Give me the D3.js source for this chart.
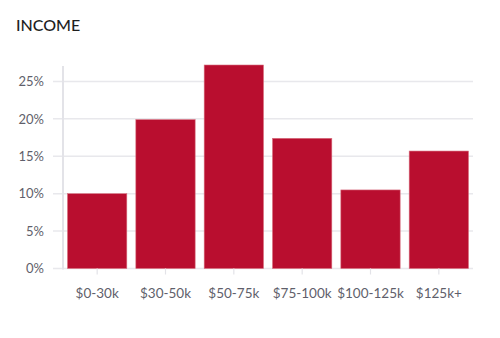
<!DOCTYPE html>
<html>
<head>
<meta charset="utf-8">
<script src="https://cdn.jsdelivr.net/npm/d3@7"></script>
<style>
  html, body { margin: 0; padding: 0; background: #fff; }
  svg { display: block; }
  text { font-family: Lato, "Open Sans", sans-serif; }
</style>
</head>
<body>
<svg id="chart" width="500" height="338"></svg>
<script>
const categories = ["$0-30k", "$30-50k", "$50-75k", "$75-100k", "$100-125k", "$125k+"];
const values = [10.0, 19.9, 27.2, 17.4, 10.5, 15.7];
const yTicks = [0, 5, 10, 15, 20, 25];
const title = "INCOME";

const svg = d3.select("#chart");
const margin = { left: 63, right: 27, top: 65, bottom: 69.5 };
const W = 500, H = 338;

const x = d3.scaleBand()
  .domain(categories)
  .range([margin.left, W - margin.right])
  .paddingInner(0.132)
  .paddingOuter(0.066);

const y = d3.scaleLinear()
  .domain([0, 27.2])
  .range([H - margin.bottom, margin.top]);

svg.append("text")
  .attr("x", 16).attr("y", 31)
  .attr("font-size", 16)
  .attr("font-weight", 500)
  .attr("fill", "#1e1e1e")
  .attr("font-family", "Inter, Lato, sans-serif")
  .text(title);

// gridlines
svg.append("g")
  .selectAll("line")
  .data(yTicks)
  .join("line")
  .attr("x1", margin.left - 10)
  .attr("x2", W - margin.right)
  .attr("y1", d => y(d))
  .attr("y2", d => y(d))
  .attr("stroke", "#e8e8ec")
  .attr("stroke-width", 1.5);

// y axis labels
const yAxis = d3.axisLeft(y).tickValues(yTicks).tickFormat(d => d + "%").tickSize(0).tickPadding(19);
const gy = svg.append("g").attr("transform", `translate(${margin.left},0)`).call(yAxis);
gy.select(".domain").remove();
gy.selectAll("text").attr("font-size", 13).attr("fill", "#5f5f6b")
  .attr("font-family", "Lato, 'Open Sans', sans-serif");

// y axis line
svg.append("line")
  .attr("x1", margin.left).attr("x2", margin.left)
  .attr("y1", y(27.2) + 1).attr("y2", y(0) + 1)
  .attr("stroke", "#e3e3e8").attr("stroke-width", 2);

// bars
svg.append("g")
  .selectAll("rect")
  .data(values)
  .join("rect")
  .attr("x", (d, i) => x(categories[i]))
  .attr("width", x.bandwidth())
  .attr("y", d => y(d))
  .attr("height", d => y(0) - y(d))
  .attr("fill", "#b90e2f")
  .attr("stroke", "#d8707f")
  .attr("stroke-width", 0.6);

// x axis
const xAxis = d3.axisBottom(x).tickSize(6).tickPadding(14);
const gx = svg.append("g").attr("transform", `translate(0,${y(0)})`).call(xAxis);
gx.select(".domain").remove();
gx.selectAll(".tick line").attr("stroke", "#e3e3e8").attr("stroke-width", 1.2);
gx.selectAll("text").attr("font-size", 13.5).attr("fill", "#5f5f6b")
  .attr("font-family", "Lato, 'Open Sans', sans-serif");
</script>
</body>
</html>
